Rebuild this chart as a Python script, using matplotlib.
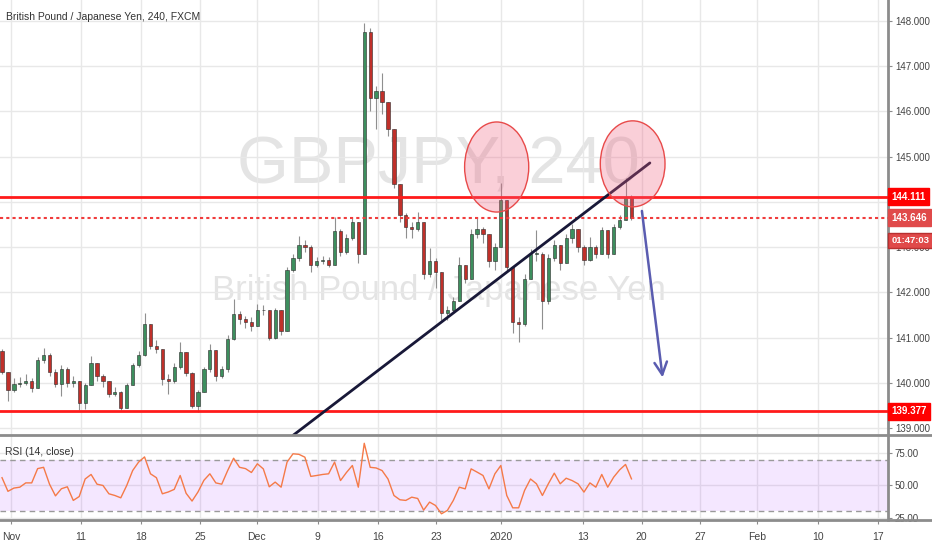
import numpy as np
import matplotlib.pyplot as plt
from matplotlib.patches import Ellipse
from matplotlib.lines import Line2D
import matplotlib.transforms as mtransforms

plt.rcParams['font.family'] = ['Liberation Sans', 'DejaVu Sans']

# 12h candles, open = previous close
first_open = 140.70
closes = [140.23, 139.85, 139.98, 140.00, 140.05, 139.88, 140.50, 140.62, 140.25, 139.98,
          140.30, 140.00, 140.05, 139.55, 139.95, 140.45, 140.15, 140.05, 139.75, 139.80,
          139.45, 139.95, 140.40, 140.62, 141.30, 140.82, 140.75, 140.08, 140.05, 140.35,
          140.68, 140.22, 139.50, 139.80, 140.30, 140.72, 140.15, 140.30, 140.97, 141.52,
          141.42, 141.35, 141.25, 141.60, 141.62, 141.00, 141.60, 141.15, 142.50, 142.75,
          143.05, 143.00, 142.60, 142.70, 142.72, 142.60, 143.35, 142.90, 143.20, 143.55,
          142.85, 147.75, 146.30, 146.45, 146.20, 145.60, 144.40, 143.70, 143.45, 143.40,
          143.55, 142.40, 142.70, 142.45, 141.55, 141.60, 141.80, 142.60, 142.30, 143.30,
          143.40, 143.30, 142.70, 143.00, 144.05, 142.55, 141.35, 141.30, 142.30, 142.85,
          142.85, 141.80, 142.75, 143.05, 142.65, 143.20, 143.40, 143.00, 142.72, 143.00,
          142.85, 143.38, 142.85, 143.45, 143.60, 144.10, 143.646]
highs = [140.75, 140.25, 140.10, 140.12, 140.20, 140.10, 140.58, 140.78, 140.65, 140.30,
         140.40, 140.35, 140.15, 140.05, 140.00, 140.60, 140.45, 140.20, 140.05, 139.90,
         139.82, 140.00, 140.45, 140.70, 141.55, 141.30, 140.95, 140.75, 140.20, 140.45,
         140.90, 140.68, 140.25, 139.85, 140.35, 140.85, 140.72, 140.38, 141.05, 141.86,
         141.58, 141.48, 141.45, 141.75, 141.73, 141.62, 141.65, 141.60, 142.55, 142.85,
         143.25, 143.15, 143.05, 142.78, 142.80, 142.78, 143.66, 143.40, 143.30, 143.65,
         143.55, 147.95, 147.85, 146.55, 146.85, 146.20, 145.60, 144.40, 143.75, 143.55,
         143.78, 143.55, 142.98, 142.75, 142.45, 141.70, 141.90, 142.78, 142.60, 143.40,
         143.66, 143.45, 143.30, 143.10, 144.42, 144.05, 142.55, 141.45, 142.40, 142.95,
         143.38, 142.90, 142.85, 143.15, 143.05, 143.28, 143.50, 143.40, 143.05, 143.22,
         143.05, 143.45, 143.38, 143.50, 143.70, 144.52, 144.15]
lows = [140.20, 139.60, 139.80, 139.90, 139.95, 139.80, 139.88, 140.45, 140.15, 139.90,
        139.72, 139.90, 139.90, 139.40, 139.42, 139.95, 140.05, 139.92, 139.68, 139.70,
        139.40, 139.45, 139.95, 140.35, 140.60, 140.75, 140.65, 139.95, 139.75, 140.00,
        140.30, 140.15, 139.45, 139.35, 139.80, 140.25, 140.05, 140.10, 140.25, 140.95,
        141.30, 141.22, 141.15, 141.25, 141.50, 140.95, 140.98, 141.05, 141.15, 142.45,
        142.70, 142.90, 142.45, 142.55, 142.62, 142.55, 142.60, 142.80, 142.85, 143.15,
        142.65, 142.85, 146.00, 145.62, 145.95, 145.45, 144.30, 143.55, 143.20, 143.20,
        143.35, 142.30, 142.35, 142.10, 141.40, 141.40, 141.55, 141.80, 142.20, 142.30,
        143.20, 143.10, 142.55, 142.50, 143.00, 142.45, 141.10, 140.90, 141.25, 142.30,
        142.70, 141.20, 141.75, 142.70, 142.50, 142.65, 143.10, 142.90, 142.60, 142.70,
        142.75, 142.85, 142.75, 142.85, 143.40, 143.60, 143.60]
rsi = [56, 45.5, 48, 48.7, 52, 52, 63, 64, 51, 42,
       47.5, 49, 38.5, 41.5, 55, 58.5, 51, 50, 43.6, 42.3,
       40.5, 50, 61.5, 68, 72, 59, 56, 43.6, 45, 47,
       57.7, 44, 38, 45, 54, 59, 52, 51, 61.5, 71,
       64, 63, 60, 66.7, 62.8, 49, 52.6, 48.7, 68, 74.4,
       74, 71.8, 57, 57.7, 58.5, 59, 68, 53.8, 60, 65.4,
       48.7, 82.5, 64, 63.5, 61.5, 55, 42.3, 39, 38.5, 41,
       40, 31, 37.2, 34.6, 28.2, 30.8, 38.5, 48.7, 47.4, 62.8,
       60.3, 57.7, 47.4, 59, 65.4, 42.3, 32.8, 32.8, 46.2, 55,
       51.3, 42.3, 51.3, 59.5, 51.3, 55.6, 53.8, 51.3, 44.9, 52,
       48.7, 58.5, 48.7, 56.4, 62, 66.2, 55.1]

date_ticks = [1.5, 13.3, 23.4, 33.3, 42.9, 53.2, 63.3, 73.1, 84.0, 97.8, 107.7, 117.5, 127.1, 137.4, 147.5]
date_labels = ['Nov', '11', '18', '25', 'Dec', '9', '16', '23', '2020', '13', '20', '27', 'Feb', '10', '17']
price_ticks = [139, 140, 141, 142, 143, 144, 145, 146, 147, 148]
resistance = 144.111
support = 139.377
last_price = 143.646
countdown = '01:47:03'

up_col = '#3d8f5e'
down_col = '#c0302a'
grid_col = '#e8e8e8'
axis_col = '#8c8c8c'

fig = plt.figure(figsize=(9.32, 5.5), dpi=100)
ax = fig.add_axes([0, 1 - 434.5 / 550, 888 / 932, 434.5 / 550])
ax2 = fig.add_axes([0, 1 - 519.5 / 550, 888 / 932, (519.5 - 435.5) / 550], sharex=ax)

x = np.arange(len(closes))
c = np.array(closes)
o = np.concatenate([[first_open], c[:-1]])
h = np.array(highs)
l = np.array(lows)
up = c >= o

# watermarks
ax.text(73.5, 144.78, 'GBPJPY, 240', fontsize=48, color='#c4c4c4', alpha=0.45,
        ha='center', va='center', zorder=0)
ax.text(73.5, 142.05, 'British Pound / Japanese Yen', fontsize=25, color='#c4c4c4', alpha=0.45,
        ha='center', va='center', zorder=0)

ax.vlines(x, l, h, color='#8f8f8f', lw=0.8, zorder=2)
ax.bar(x, np.maximum(np.abs(c - o), 0.015), bottom=np.minimum(o, c), width=0.55,
       color=np.where(up, up_col, down_col), edgecolor='#2a2a2a', linewidth=0.4, zorder=3)

ax.axhline(resistance, color='#ff1a1a', lw=2, zorder=4)
ax.axhline(support, color='#ff1a1a', lw=2, zorder=4)
ax.axhline(last_price, color='#f03c3c', lw=1.5, ls=(0, (1.5, 1.5)), zorder=4)

# trendline, circles, arrow
ax.plot([49.0, 109.1], [138.84, 144.86], color='#181838', lw=2, zorder=5, solid_capstyle='round')
for cx, cy, w, hh in [(83.3, 144.77, 10.8, 1.99), (106.2, 144.84, 10.9, 1.9)]:
    ax.add_patch(Ellipse((cx, cy), w, hh, facecolor='#f06080', alpha=0.3, edgecolor='none', zorder=6))
    ax.add_patch(Ellipse((cx, cy), w, hh, facecolor='none', edgecolor='#e84a4a', lw=1, zorder=6))
ax.annotate('', xy=(111.3, 140.06), xytext=(107.7, 143.86),
            arrowprops=dict(arrowstyle='->,head_length=0.9,head_width=0.45', color='#5a5cb0', lw=1.8),
            zorder=7)

ax.set_xlim(-0.34, 149.2)
ax.set_ylim(138.86, 148.46)
ax.set_yticks(price_ticks)
ax.set_yticklabels(['%.3f' % v for v in price_ticks])
ax.yaxis.tick_right()
ax.tick_params(axis='y', length=3, color=axis_col, labelsize=7, labelcolor='#444444', pad=2)
ax.tick_params(axis='x', length=0, labelbottom=False)
ax.set_xticks(date_ticks)
ax.grid(True, color=grid_col, lw=1)
ax.set_axisbelow(True)
for s in ['left', 'top', 'bottom']:
    ax.spines[s].set_visible(False)
ax.spines['right'].set_color(axis_col)
ax.spines['right'].set_linewidth(2)

ax.text(0.007, 0.962, 'British Pound / Japanese Yen, 240, FXCM', transform=ax.transAxes,
        fontsize=7.5, color='#333333', va='center', ha='left')

# price labels on the right axis
trans = mtransforms.blended_transform_factory(ax.transAxes, ax.transData)
for val, txt, col in [(resistance, '%.3f' % resistance, '#ff0000'),
                      (last_price, '%.3f' % last_price, '#e04a4a'),
                      (support, '%.3f' % support, '#ff0000')]:
    ax.text(1.004, val, txt, transform=trans, fontsize=7, color='white', fontweight='bold',
            va='center', ha='left', clip_on=False, zorder=10,
            bbox=dict(boxstyle='square,pad=0.35', fc=col, ec=col))
ax.text(1.004, last_price - 0.5, countdown, transform=trans, fontsize=6.8, color='white',
        fontweight='bold', va='center', ha='left', clip_on=False, zorder=10,
        bbox=dict(boxstyle='square,pad=0.35', fc='#e04a4a', ec='#b83030'))

# RSI panel
ax2.axhspan(30, 70, color='#9915ff', alpha=0.1, lw=0)
ax2.axhline(70, color='#9a9a9a', lw=1, ls=(0, (4, 3)))
ax2.axhline(30, color='#9a9a9a', lw=1, ls=(0, (4, 3)))
ax2.plot(x, rsi, color='#f57a48', lw=1)
ax2.set_ylim(23.8, 88.5)
ax2.set_yticks([25, 50, 75])
ax2.set_yticklabels(['25.00', '50.00', '75.00'])
ax2.yaxis.tick_right()
ax2.tick_params(axis='y', length=3, color=axis_col, labelsize=7, labelcolor='#444444', pad=2)
ax2.set_xticks(date_ticks)
ax2.set_xticklabels(date_labels)
ax2.tick_params(axis='x', length=3, color=axis_col, labelsize=7.5, labelcolor='#444444', pad=6)
ax2.grid(True, color=grid_col, lw=1)
ax2.set_axisbelow(True)
for s in ['left', 'top', 'bottom']:
    ax2.spines[s].set_visible(False)
ax2.spines['right'].set_color(axis_col)
ax2.spines['right'].set_linewidth(2)
ax2.text(0.006, 0.8, 'RSI (14, close)', transform=ax2.transAxes, fontsize=7.5,
         color='#333333', va='center', ha='left')

# panel separators
for yy in [1 - 434.5 / 550, 1 - 519.5 / 550]:
    fig.add_artist(Line2D([0, 1], [yy, yy], color=axis_col, lw=2))

fig.savefig('out.png', dpi=100)
